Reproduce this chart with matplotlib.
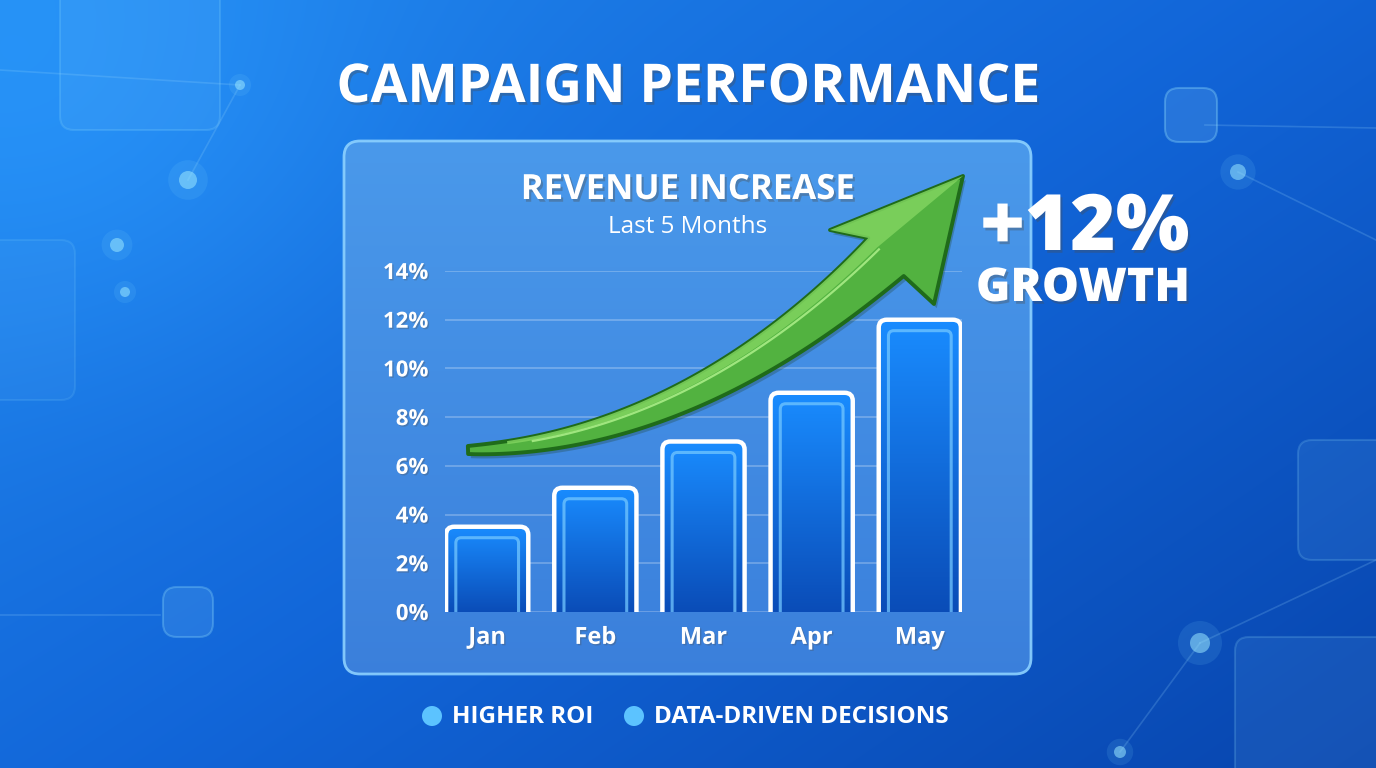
import numpy as np
import matplotlib
matplotlib.use("Agg")
import matplotlib.pyplot as plt
from matplotlib.patches import FancyBboxPatch, Polygon, Circle
import matplotlib.patheffects as pe

### Data ###
months = ["Jan", "Feb", "Mar", "Apr", "May"]
revenue_pct = [3.5, 5.1, 7.0, 9.0, 12.0]
y_ticks = [0, 2, 4, 6, 8, 10, 12, 14]
title = "CAMPAIGN PERFORMANCE"
panel_title = "REVENUE INCREASE"
panel_sub = "Last 5 Months"
growth_big = "+12%"
growth_small = "GROWTH"
legend_items = ["HIGHER ROI", "DATA-DRIVEN DECISIONS"]

W, H = 1376, 768
FONT = ["Open Sans", "Lato", "DejaVu Sans"]
plt.rcParams["font.family"] = FONT

fig = plt.figure(figsize=(W / 100, H / 100), dpi=100)

##
# Background layer, pixel coordinates (y down)
##
bg = fig.add_axes([0, 0, 1, 1])
bg.set_xlim(0, W)
bg.set_ylim(H, 0)
bg.axis("off")

yy, xx = np.mgrid[0:H, 0:W]
u = xx / W
v = yy / H
d = np.clip(0.55 * u + 0.45 * v, 0, 1)
c0 = np.array([0.13, 0.53, 0.93])
c1 = np.array([0.07, 0.40, 0.85])
c2 = np.array([0.03, 0.27, 0.68])
t1 = np.clip(d / 0.5, 0, 1)[..., None]
t2 = np.clip((d - 0.5) / 0.5, 0, 1)[..., None]
img = c0 * (1 - t1) + c1 * t1
img = img * (1 - t2) + c2 * t2
glow = np.exp(-(((xx - 80) / 300.0) ** 2 + ((yy - 120) / 260.0) ** 2))[..., None]
img = np.clip(img + glow * np.array([0.03, 0.06, 0.05]), 0, 1)
bg.imshow(img, extent=(0, W, H, 0), aspect="auto", zorder=0)

# decorative shapes
for (x, y, w, h, a) in [(60, -40, 160, 170, 0.09), (-60, 240, 135, 160, 0.06),
                        (1165, 88, 52, 54, 0.16), (163, 587, 50, 50, 0.14),
                        (1298, 440, 120, 120, 0.09), (1235, 637, 160, 160, 0.09)]:
    bg.add_patch(FancyBboxPatch((x, y), w, h, boxstyle="round,pad=0,rounding_size=14",
                                fc=(0.6, 0.85, 1, a), ec=(0.6, 0.9, 1, a * 2), lw=1.5, zorder=1))
for (x0, y0, x1, y1) in [(0, 70, 240, 85), (188, 180, 240, 85), (1205, 125, 1376, 128),
                         (1200, 643, 1376, 560), (1120, 752, 1200, 643), (0, 615, 160, 615),
                         (1238, 172, 1376, 240)]:
    bg.plot([x0, x1], [y0, y1], color=(0.6, 0.85, 1, 0.2), lw=1.2, zorder=1)
for (x, y, r) in [(188, 180, 9), (1200, 643, 10), (1238, 172, 8), (117, 245, 7),
                  (125, 292, 5), (1120, 752, 6), (240, 85, 5)]:
    bg.add_patch(Circle((x, y), r * 2.2, fc=(0.5, 0.85, 1, 0.12), ec="none", zorder=1))
    bg.add_patch(Circle((x, y), r, fc=(0.6, 0.9, 1, 0.55), ec="none", zorder=1))

# panel
panel = FancyBboxPatch((344, 141), 687, 533, boxstyle="round,pad=0,rounding_size=16",
                       fc="none", ec=(0.55, 0.82, 1, 0.9), lw=2, zorder=3)
bg.add_patch(panel)
pg = np.linspace(0, 1, 200)[:, None, None]
ptop = np.array([0.29, 0.60, 0.92])
pbot = np.array([0.23, 0.50, 0.86])
pimg = np.repeat(ptop * (1 - pg) + pbot * pg, 2, axis=1)
pim = bg.imshow(pimg, extent=(344, 1031, 674, 141), aspect="auto", zorder=2)
pim.set_clip_path(panel)
bg.set_xlim(0, W)
bg.set_ylim(H, 0)

##
# Chart axes
##
ax = fig.add_axes([445 / W, 1 - 612 / H, (962 - 445) / W, (612 - 271) / H])
ax.patch.set_alpha(0)
ax.set_xlim(-0.39, 4.39)
ax.set_ylim(0, 14)
for s in ax.spines.values():
    s.set_visible(False)
ax.set_yticks(y_ticks)
ax.set_yticklabels([f"{t}%" for t in y_ticks])
ax.set_xticks(range(len(months)))
ax.set_xticklabels(months)
ax.tick_params(length=0, colors="white", labelsize=16)
ax.tick_params(axis="y", pad=12)
ax.tick_params(axis="x", pad=10, labelsize=17)
for lab in ax.get_xticklabels() + ax.get_yticklabels():
    lab.set_fontweight("bold")
    lab.set_path_effects([pe.withSimplePatchShadow(offset=(1, -1), alpha=0.3)])
ax.yaxis.grid(True, color="white", alpha=0.28, lw=1.2)
ax.set_axisbelow(True)

bar_w = 0.76
px_x = (962 - 445) / (4.39 + 0.39)
px_y = (612 - 271) / 14.0
asp = px_x / px_y
grad = np.linspace(0, 1, 100)[:, None, None]
btop = np.array([0.10, 0.55, 1.0])
bbot = np.array([0.04, 0.30, 0.72])
bimg = np.repeat(btop * (1 - grad) + bbot * grad, 2, axis=1)
bars = ax.bar(range(len(months)), revenue_pct, width=bar_w, visible=False)
for b in bars:
    x0, hgt = b.get_x(), b.get_height()
    patch = FancyBboxPatch((x0, -0.5), bar_w, hgt + 0.5,
                           boxstyle="round,pad=0,rounding_size=0.075", mutation_aspect=asp,
                           fc="none", ec="white", lw=3.2, zorder=4)
    ax.add_patch(patch)
    im = ax.imshow(bimg, extent=(x0, x0 + bar_w, 0, hgt), aspect="auto", zorder=3)
    im.set_clip_path(patch)
    inner = FancyBboxPatch((x0 + 0.09, -0.5), bar_w - 0.18, hgt + 0.5 - 0.45,
                           boxstyle="round,pad=0,rounding_size=0.05", mutation_aspect=asp,
                           fc="none", ec=(0.45, 0.78, 1.0, 0.75), lw=2.2, zorder=4)
    ax.add_patch(inner)
ax.set_xlim(-0.39, 4.39)
ax.set_ylim(0, 14)

##
# Overlay: arrow and texts (pixel coordinates)
##
top = fig.add_axes([0, 0, 1, 1], zorder=5)
top.set_xlim(0, W)
top.set_ylim(H, 0)
top.axis("off")
top.patch.set_alpha(0)

P = np.array([[468, 450], [668, 444], [813, 325], [886, 257]], dtype=float)
t = np.linspace(0, 1, 90)[:, None]
c = ((1 - t) ** 3) * P[0] + 3 * ((1 - t) ** 2) * t * P[1] + 3 * (1 - t) * t ** 2 * P[2] + t ** 3 * P[3]
dc = 3 * ((1 - t) ** 2) * (P[1] - P[0]) + 6 * (1 - t) * t * (P[2] - P[1]) + 3 * t ** 2 * (P[3] - P[2])
tang = dc / np.linalg.norm(dc, axis=1, keepdims=True)
nrm = np.column_stack([tang[:, 1], -tang[:, 0]])
wid = (8 + 44 * t[:, 0] ** 0.85)[:, None]
upper = c + nrm * wid / 2
lower = c - nrm * wid / 2
head = np.array([[830, 230], [963, 176], [934, 304]], dtype=float)
outline = np.vstack([upper, head, lower[::-1]])
top.add_patch(Polygon(outline, closed=True, fc="#52b240", ec="#1f6b1a", lw=2.8,
                      joinstyle="round", zorder=6,
                      path_effects=[pe.withSimplePatchShadow(offset=(2, -3), alpha=0.25)]))
mid = (c + upper) / 2
hl = np.vstack([upper[6:], head[:2], mid[::-1][:84]])
top.add_patch(Polygon(hl, closed=True, fc="#80d45f", ec="none", alpha=0.85, zorder=7))
top.plot(*(c[10:] * 0.6 + upper[10:] * 0.4).T, color="#a8ec86", lw=1.6, alpha=0.9, zorder=8)

shadow = [pe.withSimplePatchShadow(offset=(1.5, -2), alpha=0.35)]
top.text(688, 88, title, color="white", fontsize=38.5, fontweight="bold",
         ha="center", va="center", path_effects=shadow, zorder=9)
top.text(688, 190, panel_title, color="white", fontsize=25, fontweight="bold",
         ha="center", va="center", path_effects=shadow, zorder=9)
top.text(688, 227, panel_sub, color="white", fontsize=17.5,
         ha="center", va="center", zorder=9)
top.text(1085, 230, growth_big, color="white", fontsize=56, fontweight="black",
         ha="center", va="center", path_effects=shadow, zorder=9)
top.text(1083, 289, growth_small, color="white", fontsize=33.5, fontweight="black",
         ha="center", va="center", path_effects=shadow, zorder=9)

lx = [432, 634]
for x, lab in zip(lx, legend_items):
    top.add_patch(Circle((x, 716), 10, fc="#5cc3ff", ec="none", zorder=9))
    top.text(x + 20, 717, lab, color="white", fontsize=17.5, fontweight="bold",
             ha="left", va="center", zorder=9)

fig.savefig("out.png", dpi=100)
